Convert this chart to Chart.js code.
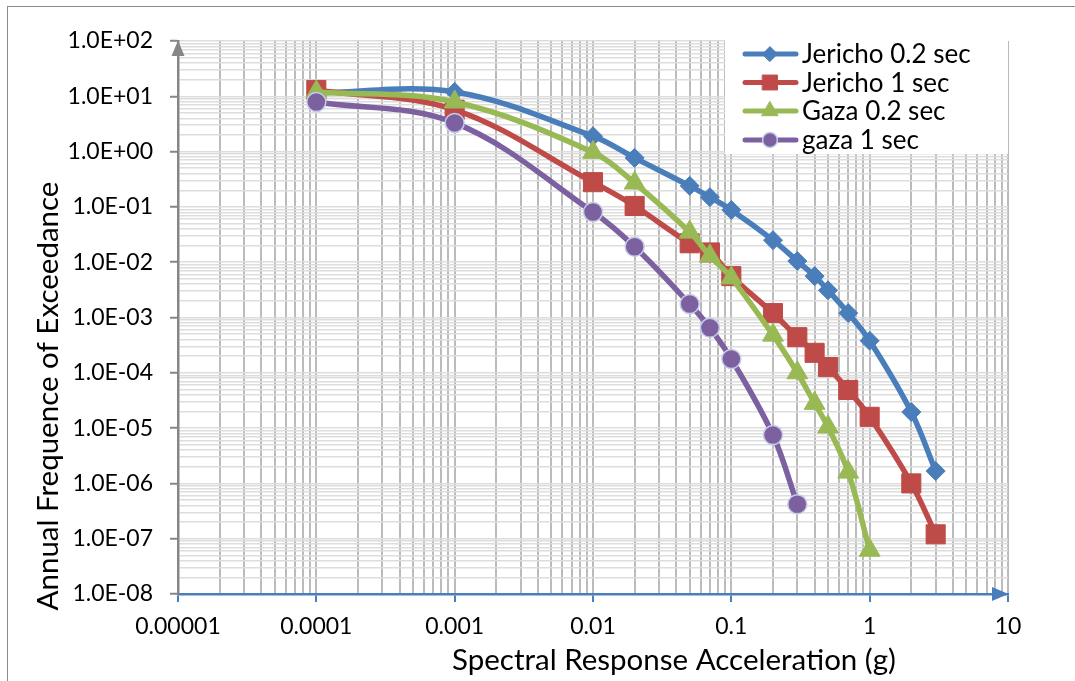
<!DOCTYPE html>
<html>
<head>
<meta charset="utf-8">
<script src="https://cdn.jsdelivr.net/npm/chart.js@4.4.1/dist/chart.umd.min.js"></script>
<style>
  html, body { margin: 0; padding: 0; background: #ffffff; }
  canvas { display: block; }
</style>
</head>
<body>
<canvas id="c" width="1075" height="681"></canvas>
<script>
// ---------- data ----------
const seriesNames = ["Jericho 0.2 sec", "Jericho 1 sec", "Gaza 0.2 sec", "gaza 1 sec"];

const xJericho02 = [0.0001, 0.001, 0.01, 0.02, 0.05, 0.07, 0.1, 0.2, 0.3, 0.4, 0.5, 0.7, 1, 2, 3];
const yJericho02 = [11.5, 12, 1.9, 0.77, 0.24, 0.15, 0.088, 0.025, 0.0105, 0.0056, 0.0031, 0.0012, 0.00038, 1.95e-5, 1.67e-6];

const xJericho1 = [0.0001, 0.001, 0.01, 0.02, 0.05, 0.07, 0.1, 0.2, 0.3, 0.4, 0.5, 0.7, 1, 2, 3];
const yJericho1 = [13, 5.7, 0.28, 0.104, 0.022, 0.015, 0.0056, 0.0012, 0.00044, 0.00023, 0.000127, 4.9e-5, 1.6e-5, 1.0e-6, 1.2e-7];

const xGaza02 = [0.0001, 0.001, 0.01, 0.02, 0.05, 0.07, 0.1, 0.2, 0.3, 0.4, 0.5, 0.7, 1];
const yGaza02 = [12, 7.9, 0.97, 0.27, 0.035, 0.013, 0.0052, 0.00048, 0.0001, 2.8e-5, 1.05e-5, 1.6e-6, 6.2e-8];

const xGaza1 = [0.0001, 0.001, 0.01, 0.02, 0.05, 0.07, 0.1, 0.2, 0.3];
const yGaza1 = [7.9, 3.3, 0.081, 0.019, 0.00175, 0.00065, 0.000178, 7.5e-6, 4.2e-7];

const xTickLabels = ["0.00001", "0.0001", "0.001", "0.01", "0.1", "1", "10"];
const yTickLabels = ["1.0E-08", "1.0E-07", "1.0E-06", "1.0E-05", "1.0E-04", "1.0E-03", "1.0E-02", "1.0E-01", "1.0E+00", "1.0E+01", "1.0E+02"];
const xMinExp = -5, xMaxExp = 1;
const yMinExp = -8, yMaxExp = 2;

const xTitle = "Spectral Response Acceleration (g)";
const yTitle = "Annual Frequence of Exceedance";

// ---------- styles ----------
const COL_BLUE = "#4A7EBB", COL_RED = "#BE4B48", COL_GREEN = "#98B954", COL_PURPLE = "#7D60A0";
const FONT = "Lato, 'Open Sans', sans-serif";

function zip(xs, ys) { return xs.map((x, i) => ({ x: x, y: ys[i] })); }
function logTicks(minExp, maxExp) {
  const t = [];
  for (let e = minExp; e < maxExp; e++) {
    for (let m = 1; m <= 9; m++) t.push(parseFloat((m * Math.pow(10, e)).toPrecision(6)));
  }
  t.push(Math.pow(10, maxExp));
  return t;
}
function isDecade(v) {
  const e = Math.round(Math.log10(v));
  return Math.abs(v / Math.pow(10, e) - 1) < 1e-6;
}
function decadeIndex(v, minExp) { return Math.round(Math.log10(v)) - minExp; }

const commonDs = { borderWidth: 5.5, tension: 0.35, fill: false, pointBorderWidth: 1 };

const datasets = [
  Object.assign({}, commonDs, { label: seriesNames[0], data: zip(xJericho02, yJericho02), borderColor: COL_BLUE, backgroundColor: COL_BLUE,
    pointBackgroundColor: COL_BLUE, pointBorderColor: COL_BLUE, pointStyle: "rectRot", pointRadius: 9.5, order: 3 }),
  Object.assign({}, commonDs, { label: seriesNames[1], data: zip(xJericho1, yJericho1), borderColor: COL_RED, backgroundColor: COL_RED,
    pointBackgroundColor: COL_RED, pointBorderColor: COL_RED, pointStyle: "rect", pointRadius: 13.5, order: 2 }),
  Object.assign({}, commonDs, { label: seriesNames[2], data: zip(xGaza02, yGaza02), borderColor: COL_GREEN, backgroundColor: COL_GREEN,
    pointBackgroundColor: COL_GREEN, pointBorderColor: COL_GREEN, pointStyle: "triangle", pointRadius: 12, order: 1 }),
  Object.assign({}, commonDs, { label: seriesNames[3], data: zip(xGaza1, yGaza1), borderColor: COL_PURPLE, backgroundColor: COL_PURPLE,
    pointBackgroundColor: COL_PURPLE, pointBorderColor: "#C3CDE8", pointBorderWidth: 1.5, pointStyle: "circle", pointRadius: 9.5, order: 0 })
];

// ---------- decoration plugin ----------
const decor = {
  id: "decor",
  beforeDraw(chart) {
    const c = chart.ctx;
    c.save();
    c.fillStyle = "#ffffff";
    c.fillRect(0, 0, chart.width, chart.height);
    c.restore();
  },
  afterDraw(chart) {
    const c = chart.ctx;
    const a = chart.chartArea;
    c.save();
    // outer border
    c.strokeStyle = "#8C8C8C";
    c.lineWidth = 1;
    c.strokeRect(7.5, 6.5, chart.width + 20, chart.height + 20);

    // y axis arrow
    c.fillStyle = "#868686";
    c.beginPath();
    c.moveTo(a.left, a.top - 0.5);
    c.lineTo(a.left - 6.5, a.top + 15);
    c.lineTo(a.left + 6.5, a.top + 15);
    c.closePath();
    c.fill();
    // x axis arrow
    c.fillStyle = COL_BLUE;
    c.beginPath();
    c.moveTo(a.right + 0.5, a.bottom);
    c.lineTo(a.right - 16, a.bottom - 7);
    c.lineTo(a.right - 16, a.bottom + 7);
    c.closePath();
    c.fill();

    // legend
    const lx = 725, ly = 40, lw = a.right - 725, lh = 114;
    c.fillStyle = "#ffffff";
    c.fillRect(lx, ly, lw, lh);
    const rows = [54, 82.5, 111, 140];
    chart.data.datasets.forEach((ds, i) => {
      const y = rows[i];
      c.strokeStyle = ds.borderColor;
      c.lineWidth = 5;
      c.lineCap = "round";
      c.beginPath();
      c.moveTo(745, y);
      c.lineTo(796, y);
      c.stroke();
      c.fillStyle = ds.pointBackgroundColor;
      c.strokeStyle = ds.pointBorderColor;
      c.lineWidth = ds.pointBorderWidth;
      Chart.helpers.drawPoint(c, { pointStyle: ds.pointStyle, radius: ds.pointRadius * 0.78, rotation: 0, borderWidth: ds.pointBorderWidth }, 770, y);
      c.fillStyle = "#000000";
      c.font = "26px " + FONT;
      c.textAlign = "left";
      c.textBaseline = "middle";
      c.fillText(ds.label, 802, y + 1);
    });

    // axis titles
    c.fillStyle = "#000000";
    c.font = "29.5px " + FONT;
    c.textAlign = "center";
    c.textBaseline = "alphabetic";
    c.fillText(xTitle, 674, 670);
    c.translate(58, 396);
    c.rotate(-Math.PI / 2);
    c.fillText(yTitle, 0, 0);
    c.restore();
  }
};

new Chart(document.getElementById("c"), {
  type: "line",
  data: { datasets: datasets },
  options: {
    responsive: false,
    animation: false,
    devicePixelRatio: 1,
    layout: { padding: { top: 41, right: 67, bottom: 0, left: 0 } },
    plugins: { legend: { display: false }, tooltip: { enabled: false } },
    scales: {
      x: {
        type: "logarithmic",
        position: "bottom",
        min: Math.pow(10, xMinExp),
        max: Math.pow(10, xMaxExp),
        afterBuildTicks: s => { s.ticks = logTicks(xMinExp, xMaxExp).map(v => ({ value: v })); },
        afterFit: s => { s.height = 87; },
        grid: {
          color: "#BBBBBB",
          lineWidth: 2,
          drawTicks: true,
          tickLength: 8,
          tickWidth: 2,
          tickColor: ctx => (ctx.tick && isDecade(ctx.tick.value)) ? COL_BLUE : "rgba(0,0,0,0)"
        },
        border: { display: true, color: COL_BLUE, width: 2.5 },
        ticks: {
          autoSkip: false, maxRotation: 0, minRotation: 0, padding: 11,
          color: "#000000", font: { family: FONT, size: 23 },
          callback: function (v) { return isDecade(v) ? xTickLabels[decadeIndex(v, xMinExp)] : ""; }
        }
      },
      y: {
        type: "logarithmic",
        position: "left",
        min: Math.pow(10, yMinExp),
        max: Math.pow(10, yMaxExp),
        afterBuildTicks: s => { s.ticks = logTicks(yMinExp, yMaxExp).map(v => ({ value: v })); },
        afterFit: s => { s.width = 178; },
        grid: {
          color: "#DDDDDD",
          lineWidth: 1.5,
          drawTicks: true,
          tickLength: 8,
          tickWidth: 2,
          tickColor: ctx => (ctx.tick && isDecade(ctx.tick.value)) ? "#868686" : "rgba(0,0,0,0)"
        },
        border: { display: true, color: "#868686", width: 2.5 },
        ticks: {
          autoSkip: false, padding: 17,
          color: "#000000", font: { family: FONT, size: 23 },
          callback: function (v) { return isDecade(v) ? yTickLabels[decadeIndex(v, yMinExp)] : ""; }
        }
      }
    }
  },
  plugins: [decor]
});
</script>
</body>
</html>
